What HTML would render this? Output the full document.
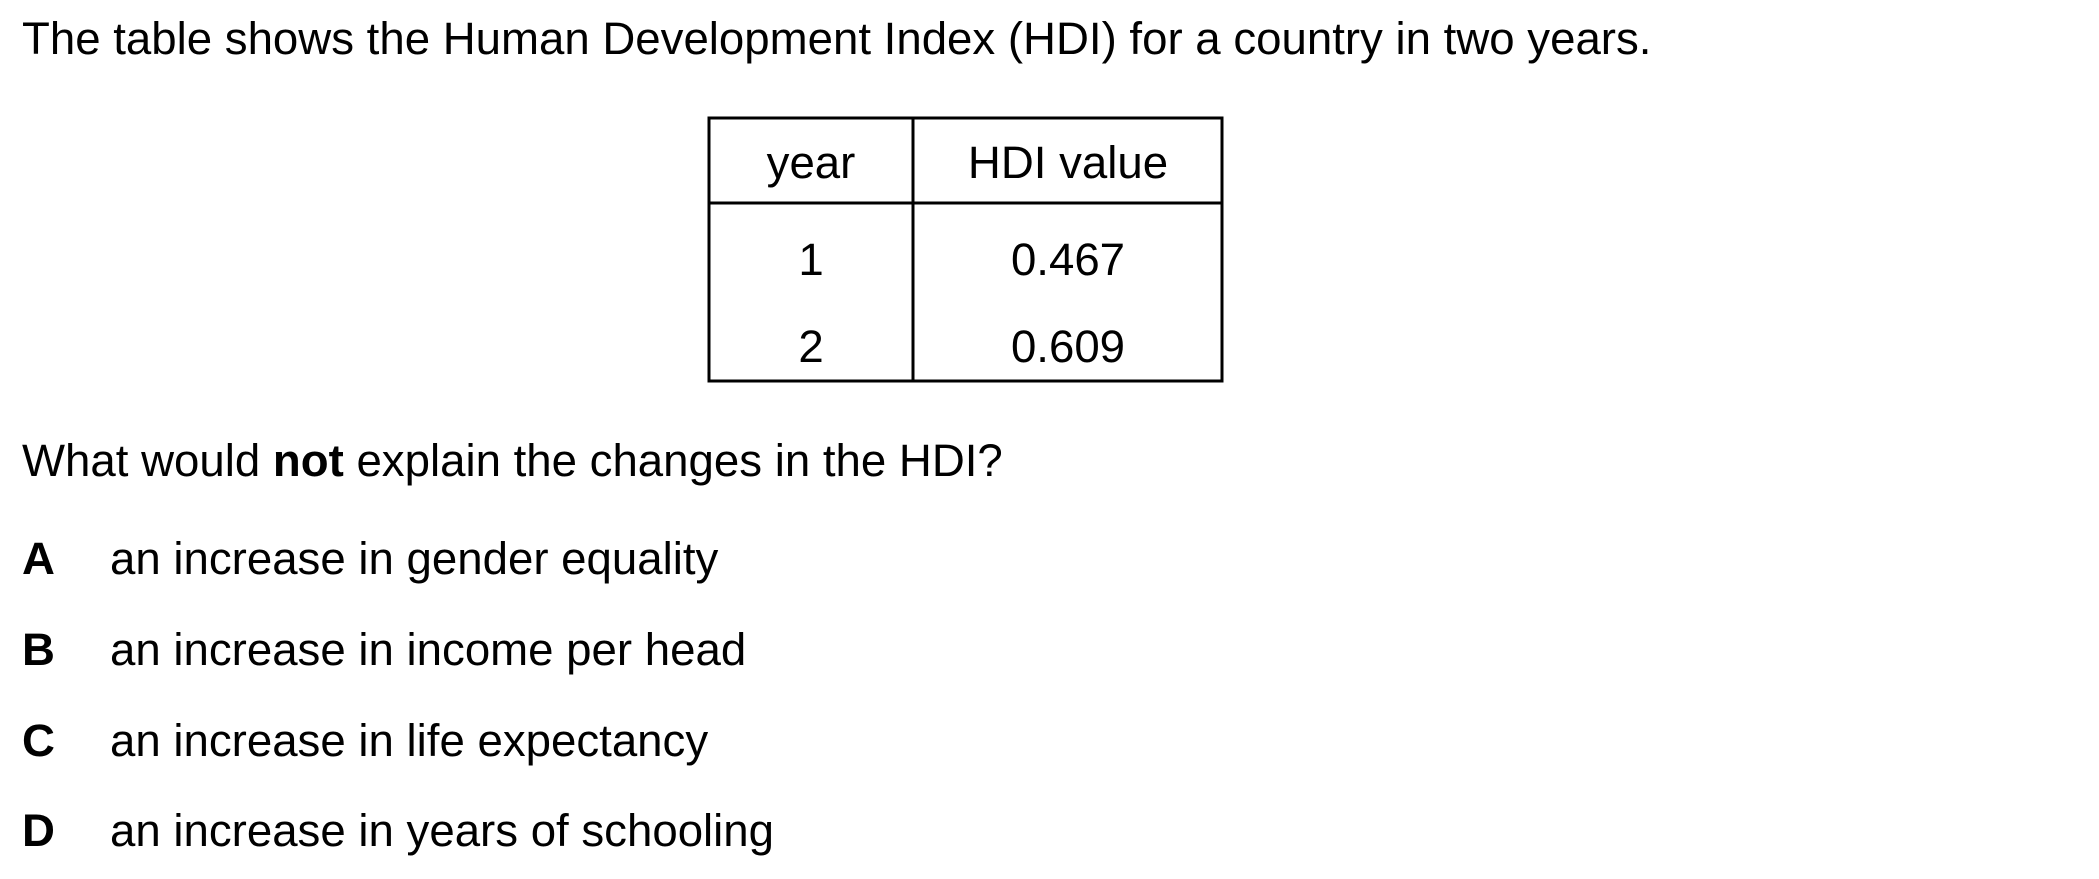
<!DOCTYPE html>
<html><head><meta charset="utf-8"><style>
html,body{margin:0;padding:0;background:#fff;}
svg{display:block;}
text{font-family:"Liberation Sans",Arial,sans-serif;font-size:45.6px;fill:#000;}
</style></head><body>
<svg width="2099" height="879" viewBox="0 0 2099 879">
<text x="22" y="54">The table shows the Human Development Index (HDI) for a country in two years.</text>
<g stroke="#000" stroke-width="3" fill="none">
<rect x="709" y="118" width="513" height="263"/>
<line x1="913" y1="118" x2="913" y2="381"/>
<line x1="709" y1="203" x2="1222" y2="203"/>
</g>
<text x="811" y="178" text-anchor="middle">year</text>
<text x="1068" y="178" text-anchor="middle">HDI value</text>
<text x="811" y="275" text-anchor="middle">1</text>
<text x="1068" y="275" text-anchor="middle">0.467</text>
<text x="811" y="362" text-anchor="middle">2</text>
<text x="1068" y="362" text-anchor="middle">0.609</text>
<text x="22" y="476">What would <tspan font-weight="bold">not</tspan> explain the changes in the HDI?</text>
<g><text x="22" y="574" font-weight="bold">A</text><text x="110" y="574">an increase in gender equality</text></g>
<g><text x="22" y="665" font-weight="bold">B</text><text x="110" y="665">an increase in income per head</text></g>
<g><text x="22" y="756" font-weight="bold">C</text><text x="110" y="756">an increase in life expectancy</text></g>
<g><text x="22" y="846" font-weight="bold">D</text><text x="110" y="846">an increase in years of schooling</text></g>
</svg>
</body></html>
